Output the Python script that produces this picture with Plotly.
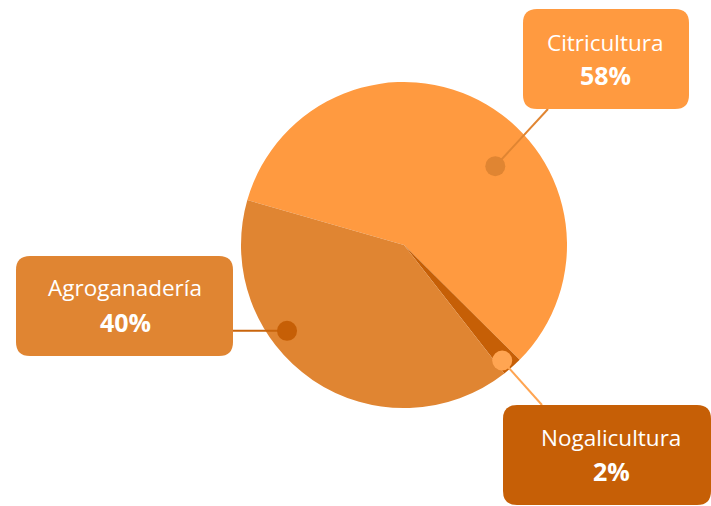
import math
import plotly.graph_objects as go

# ---- data ----
labels = ["Citricultura", "Nogalicultura", "Agroganadería"]
values = [58, 2, 40]
pct_text = ["58%", "2%", "40%"]

# ---- styles ----
slice_colors = ["#FF9A40", "#C65F06", "#E08532"]
dot_colors = ["#E08532", "#FFA552", "#C65F06"]
line_colors = ["#E08532", "#FFA552", "#C9650C"]
box_colors = ["#FF9A40", "#C65F06", "#E08532"]

W, H = 711, 506
CX, CY, R = 404, 245, 163
ROTATION = 286

# dot placement within each slice: fraction along the slice arc, fraction of radius
dot_along = [0.59, 0.67, 0.637]
dot_radial = [0.74, 0.93, 0.89]

# label boxes in pixel space (x0, y0, x1, y1)
boxes = [(523, 9, 689, 109), (503, 405, 711, 505), (16, 256, 233, 356)]
box_radius = 14
label_x = [605, 611, 125]
label_y = [42, 437, 287]
pct_y = [75, 471, 322]

fig = go.Figure()

fig.add_trace(go.Pie(
    labels=labels, values=values, sort=False, direction="clockwise",
    rotation=ROTATION, textinfo="none", hoverinfo="skip", showlegend=False,
    marker=dict(colors=slice_colors, line=dict(width=0)),
    domain=dict(x=[(CX - R) / W, (CX + R) / W],
                y=[1 - (CY + R) / H, 1 - (CY - R) / H]),
))

# invisible trace to establish the pixel-space overlay axes
fig.add_trace(go.Scatter(x=[0, W], y=[0, H], mode="markers",
                         marker=dict(opacity=0), hoverinfo="skip", showlegend=False))


def rrect(x0, y0, x1, y1, r):
    return (f"M{x0 + r},{y0} L{x1 - r},{y0} Q{x1},{y0} {x1},{y0 + r} "
            f"L{x1},{y1 - r} Q{x1},{y1} {x1 - r},{y1} L{x0 + r},{y1} "
            f"Q{x0},{y1} {x0},{y1 - r} L{x0},{y0 + r} Q{x0},{y0} {x0 + r},{y0} Z")


total = sum(values)
start = ROTATION
shapes = []
dots = []
annotations = []
for i, v in enumerate(values):
    span = v / total * 360
    ang = math.radians(start + dot_along[i] * span)
    rr = dot_radial[i] * R
    dx = CX + rr * math.sin(ang)
    dy = CY - rr * math.cos(ang)
    start += span

    x0, y0, x1, y1 = boxes[i]
    if x1 < dx:          # box to the left
        ex, ey = x1, dy
    elif y1 < dy:        # box above
        ex, ey = x0 + 25, y1
    else:                # box below
        ex, ey = x0 + 39, y0
    shapes.append(dict(type="line", xref="x", yref="y", x0=dx, y0=dy, x1=ex, y1=ey,
                       line=dict(color=line_colors[i], width=2), layer="above"))
    dots.append(dict(type="circle", xref="x", yref="y", x0=dx - 10, x1=dx + 10,
                     y0=dy - 10, y1=dy + 10, fillcolor=dot_colors[i],
                     line=dict(width=0), layer="above"))
    shapes.append(dict(type="path", xref="x", yref="y", path=rrect(x0, y0, x1, y1, box_radius),
                       fillcolor=box_colors[i], line=dict(width=0), layer="above"))
    annotations.append(dict(x=label_x[i], y=label_y[i], xref="x", yref="y", text=labels[i],
                            showarrow=False, font=dict(family="Open Sans", size=22.5, color="white")))
    annotations.append(dict(x=label_x[i], y=pct_y[i], xref="x", yref="y", text=f"<b>{pct_text[i]}</b>",
                            showarrow=False, font=dict(family="Open Sans", size=25, color="white")))

fig.update_layout(
    width=W, height=H, margin=dict(l=0, r=0, t=0, b=0),
    paper_bgcolor="white", plot_bgcolor="rgba(0,0,0,0)",
    xaxis=dict(range=[0, W], visible=False, fixedrange=True),
    yaxis=dict(range=[H, 0], visible=False, fixedrange=True),
    shapes=shapes + dots, annotations=annotations, showlegend=False,
)

fig.write_html("out.html", config={"displayModeBar": False},
               post_script="document.body.style.margin='0';")
